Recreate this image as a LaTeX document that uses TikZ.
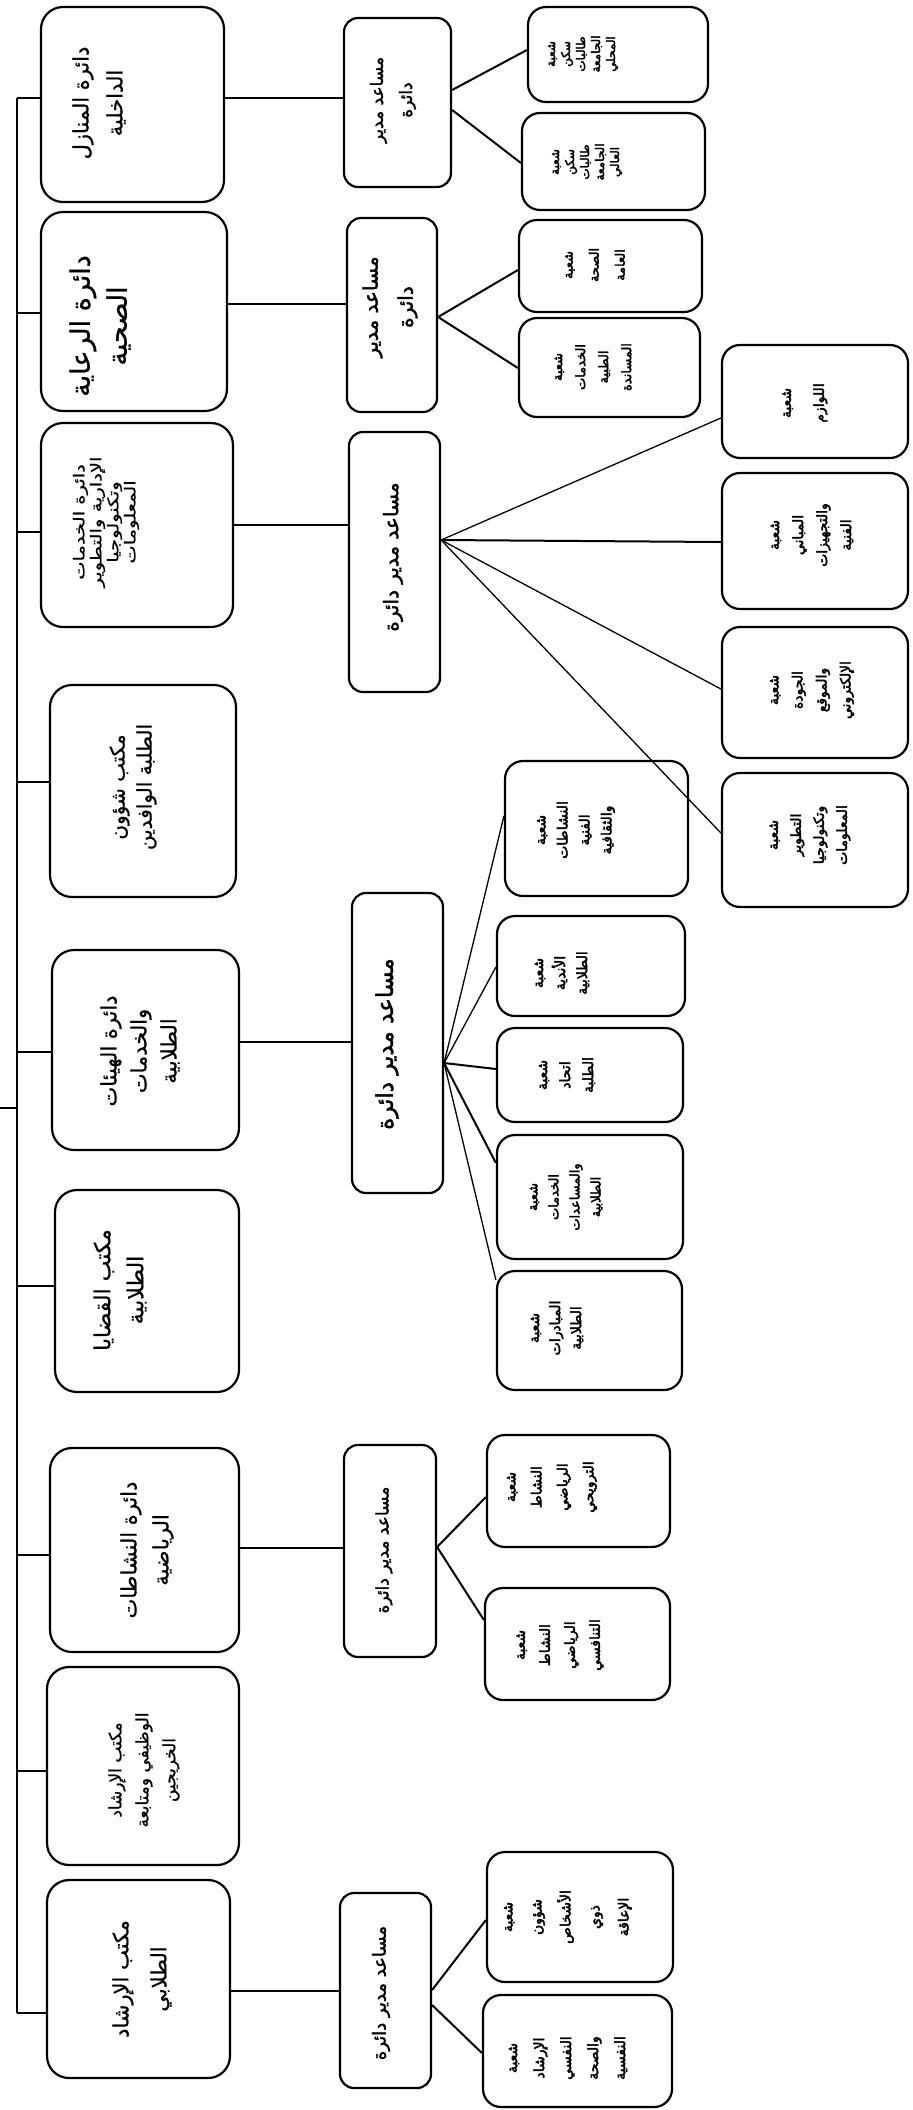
\documentclass[tikz,border=0pt]{standalone}
\usepackage{fontspec}
\usetikzlibrary{fit}
\TeXXeTstate=1
\newfontfamily\arabicfont[Script=Arabic,FakeBold=0.8]{DejaVu Sans}
\newfontfamily\arabicwide[Script=Arabic,FakeBold=0.8,FakeStretch=1.3]{DejaVu Sans}
\newfontfamily\arabicbold[Script=Arabic,FakeBold=2]{DejaVu Sans}
\newfontfamily\arabicheavy[Script=Arabic,FakeBold=3]{DejaVu Sans}
\newcommand{\ar}[1]{\beginR#1\endR}
\newcommand{\mybox}[6]{\node[#2, fit={(#3,#4) (#5,#6)}] (#1) {};}
\tikzset{
  box/.style={draw, line width=2.2pt, rounded corners=22pt, inner sep=0pt},
  midbox/.style={box, rounded corners=14pt},
  kidbox/.style={box, rounded corners=18pt},
  txt/.style={rotate=90, align=center, inner sep=0pt},
  conn/.style={line width=2pt},
  thinconn/.style={line width=1.3pt},
}
\newcommand{\fr}[2]{\arabicfont\fontsize{#1pt}{#2pt}\selectfont}
\newcommand{\fw}[2]{\arabicwide\fontsize{#1pt}{#2pt}\selectfont}
\newcommand{\fb}[2]{\arabicbold\fontsize{#1pt}{#2pt}\selectfont}
\newcommand{\fk}[2]{\arabicheavy\fontsize{#1pt}{#2pt}\selectfont}
\begin{document}
\begin{tikzpicture}[x=1pt,y=-1pt]
\useasboundingbox (0,0) rectangle (913,2110);
% level 1 boxes
\mybox{b1}{box}{41}{7}{224}{202}
\mybox{b2}{box}{41}{212}{227}{411}
\mybox{b3}{box}{41}{423}{233}{627}
\mybox{b4}{box}{50}{685}{236}{897}
\mybox{b5}{box}{52}{950}{239}{1150}
\mybox{b6}{box}{55}{1190}{239}{1392}
\mybox{b7}{box}{50}{1448}{239}{1652}
\mybox{b8}{box}{47}{1667}{239}{1865}
\mybox{b9}{box}{47}{1880}{230}{2078}
% assistant boxes
\mybox{m1}{midbox}{344}{18}{451}{187}
\mybox{m2}{midbox}{347}{218}{437}{412}
\mybox{m3}{midbox}{349}{432}{440}{692}
\mybox{m5}{midbox}{352}{893}{443}{1193}
\mybox{m7}{midbox}{344}{1445}{436}{1657}
\mybox{m9}{midbox}{340}{1893}{431}{2088}
% section boxes
\mybox{c11}{kidbox}{528}{7}{708}{102}
\mybox{c12}{kidbox}{522}{113}{705}{210}
\mybox{c21}{kidbox}{519}{220}{702}{312}
\mybox{c22}{kidbox}{519}{318}{700}{417}
\mybox{r1}{kidbox}{722}{345}{908}{458}
\mybox{r2}{kidbox}{722}{473}{908}{609}
\mybox{r3}{kidbox}{722}{627}{908}{758}
\mybox{r4}{kidbox}{722}{773}{908}{907}
\mybox{d1}{kidbox}{505}{761}{688}{896}
\mybox{d2}{kidbox}{497}{916}{685}{1016}
\mybox{d3}{kidbox}{497}{1028}{683}{1122}
\mybox{d4}{kidbox}{497}{1135}{683}{1259}
\mybox{d5}{kidbox}{497}{1271}{682}{1390}
\mybox{e1}{kidbox}{487}{1435}{670}{1547}
\mybox{e2}{kidbox}{485}{1588}{670}{1700}
\mybox{f1}{kidbox}{487}{1852}{673}{1982}
\mybox{f2}{kidbox}{483}{1995}{672}{2107}
% level 1 texts
\node[txt,font=\fr{21}{34}] (tb1) at (99,103) {\ar{دائرة المنازل}\\\ar{الداخلية}};
\node[txt,font=\fr{27}{37}] (tb2) at (100,326) {\ar{دائرة الرعاية}\\\ar{الصحية}};
\node[txt,font=\fw{15}{17}] (tb3) at (106,522) {\ar{دائرة الخدمات}\\\ar{الإدارية والتطوير}\\\ar{وتكنولوجيا}\\\ar{المعلومات}};
\node[txt,font=\fr{20}{27}] (tb4) at (133,787) {\ar{مكتب شؤون}\\\ar{الطلبة الوافدين}};
\node[txt,font=\fr{21}{30}] (tb5) at (140,1051) {\ar{دائرة الهيئات}\\\ar{والخدمات}\\\ar{الطلابية}};
\node[txt,font=\fr{22}{33}] (tb6) at (120,1290) {\ar{مكتب القضايا}\\\ar{الطلابية}};
\node[txt,font=\fr{21}{32}] (tb7) at (147,1550) {\ar{دائرة النشاطات}\\\ar{الرياضية}};
\node[txt,font=\fr{17}{27}] (tb8) at (144,1770) {\ar{مكتب الإرشاد}\\\ar{الوظيفي ومتابعة}\\\ar{الخريجين}};
\node[txt,font=\fr{21}{38}] (tb9) at (142,1979) {\ar{مكتب الإرشاد}\\\ar{الطلابي}};
% assistant texts
\node[txt,font=\fb{17}{29}] (tm1) at (393,100) {\ar{مساعد مدير}\\\ar{دائرة}};
\node[txt,font=\fb{20}{35}] (tm2) at (390,307) {\ar{مساعد مدير}\\\ar{دائرة}};
\node[txt,font=\fb{20}{24}] (tm3) at (393,557) {\ar{مساعد مدير دائرة}};
\node[txt,font=\fb{23}{28}] (tm5) at (387,1044) {\ar{مساعد مدير دائرة}};
\node[txt,font=\fb{17}{20}] (tm7) at (384,1550) {\ar{مساعد مدير دائرة}};
\node[txt,font=\fb{18}{22}] (tm9) at (381,1993) {\ar{مساعد مدير دائرة}};
% section texts
\node[txt,font=\fk{12}{15}] (tc11) at (583,54) {\ar{شعبة}\\\ar{سكن}\\\ar{طالبات}\\\ar{الجامعة}\\\ar{المحلي}};
\node[txt,font=\fk{12}{15}] (tc12) at (587,162) {\ar{شعبة}\\\ar{سكن}\\\ar{طالبات}\\\ar{الجامعة}\\\ar{العالي}};
\node[txt,font=\fk{13}{26}] (tc21) at (595,265) {\ar{شعبة}\\\ar{الصحة}\\\ar{العامة}};
\node[txt,font=\fk{13}{23}] (tc22) at (593,367) {\ar{شعبة}\\\ar{الخدمات}\\\ar{الطبية}\\\ar{المساندة}};
\node[txt,font=\fk{14}{33}] (tr1) at (805,403) {\ar{شعبة}\\\ar{اللوازم}};
\node[txt,font=\fk{14}{24}] (tr2) at (812,535) {\ar{شعبة}\\\ar{المباني}\\\ar{والتجهيزات}\\\ar{الفنية}};
\node[txt,font=\fk{14}{24}] (tr3) at (812,690) {\ar{شعبة}\\\ar{الجودة}\\\ar{والموقع}\\\ar{الإلكتروني}};
\node[txt,font=\fk{14}{23}] (tr4) at (810,835) {\ar{شعبة}\\\ar{التطوير}\\\ar{وتكنولوجيا}\\\ar{المعلومات}};
\node[txt,font=\fk{14}{22}] (td1) at (576,830) {\ar{شعبة}\\\ar{النشاطات}\\\ar{الفنية}\\\ar{والثقافية}};
\node[txt,font=\fk{14}{22}] (td2) at (562,973) {\ar{شعبة}\\\ar{الأندية}\\\ar{الطلابية}};
\node[txt,font=\fk{14}{23}] (td3) at (567,1075) {\ar{شعبة}\\\ar{اتحاد}\\\ar{الطلبة}};
\node[txt,font=\fk{13}{21}] (td4) at (566,1197) {\ar{شعبة}\\\ar{الخدمات}\\\ar{والمساعدات}\\\ar{الطلابية}};
\node[txt,font=\fk{14}{21}] (td5) at (557,1328) {\ar{شعبة}\\\ar{المبادرات}\\\ar{الطلابية}};
\node[txt,font=\fk{14}{26}] (te1) at (552,1487) {\ar{شعبة}\\\ar{النشاط}\\\ar{الرياضي}\\\ar{الترويحي}};
\node[txt,font=\fk{14}{25}] (te2) at (560,1645) {\ar{شعبة}\\\ar{النشاط}\\\ar{الرياضي}\\\ar{التنافسي}};
\node[txt,font=\fk{14}{29}] (tf1) at (568,1917) {\ar{شعبة}\\\ar{شؤون}\\\ar{الأشخاص}\\\ar{ذوي}\\\ar{الإعاقة}};
\node[txt,font=\fk{14}{27}] (tf2) at (568,2058) {\ar{شعبة}\\\ar{الإرشاد}\\\ar{النفسي}\\\ar{والصحة}\\\ar{النفسية}};
% bus
\coordinate (root) at (0,1108);
\coordinate (jr) at (17,1108);
\coordinate (j1) at (17,98);
\coordinate (j2) at (17,313);
\coordinate (j3) at (17,532);
\coordinate (j4) at (17,782);
\coordinate (j5) at (17,1052);
\coordinate (j6) at (17,1286);
\coordinate (j7) at (17,1555);
\coordinate (j8) at (17,1771);
\coordinate (j9) at (17,2013);
\draw[conn] (j1) -- (j9);
\draw[conn] (root) -- (jr);
\foreach \i in {1,...,9} {\draw[conn] (j\i) -- (b\i.west |- j\i);}
% level1 to assistant
\coordinate (y1) at (0,98);
\coordinate (y2) at (0,304);
\coordinate (y3) at (0,525);
\coordinate (y5) at (0,1042);
\coordinate (y7) at (0,1548);
\coordinate (y9) at (0,1991);
\foreach \i in {1,2,3,5,7,9} {\draw[conn] (b\i.east |- y\i) -- (m\i.west |- y\i);}
% fans
\coordinate (p) at (0,90); \coordinate (q) at (0,50);
\draw[conn] (m1.east |- p) -- (c11.west |- q);
\coordinate (p) at (0,110); \coordinate (q) at (0,163);
\draw[conn] (m1.east |- p) -- (c12.west |- q);
\coordinate (p) at (0,317);
\coordinate (q) at (0,270); \draw[conn] (m2.east |- p) -- (c21.west |- q);
\coordinate (q) at (0,368); \draw[conn] (m2.east |- p) -- (c22.west |- q);
\coordinate (p) at (0,540);
\coordinate (q) at (0,418); \draw[thinconn] (m3.east |- p) -- (r1.west |- q);
\coordinate (q) at (0,542); \draw[conn] (m3.east |- p) -- (r2.west |- q);
\coordinate (q) at (0,689); \draw[thinconn] (m3.east |- p) -- (r3.west |- q);
\coordinate (q) at (0,833); \draw[thinconn] (m3.east |- p) -- (r4.west |- q);
\coordinate (p) at (0,1063);
\coordinate (q) at (0,816); \draw[thinconn] (m5.east |- p) -- (d1.west |- q);
\coordinate (q) at (0,967); \draw[thinconn] (m5.east |- p) -- (d2.west |- q);
\coordinate (q) at (0,1069); \draw[conn] (m5.east |- p) -- (d3.west |- q);
\coordinate (q) at (0,1163); \draw[conn] (m5.east |- p) -- (d4.west |- q);
\coordinate (q) at (0,1280); \draw[thinconn] (m5.east |- p) -- (d5.west |- q);
\coordinate (p) at (0,1547);
\coordinate (q) at (0,1497); \draw[conn] (m7.east |- p) -- (e1.west |- q);
\coordinate (q) at (0,1620); \draw[conn] (m7.east |- p) -- (e2.west |- q);
\coordinate (p) at (0,1990); \coordinate (q) at (0,1920);
\draw[conn] (m9.east |- p) -- (f1.west |- q);
\coordinate (p) at (0,2005); \coordinate (q) at (0,2053);
\draw[conn] (m9.east |- p) -- (f2.west |- q);
\end{tikzpicture}
\end{document}
